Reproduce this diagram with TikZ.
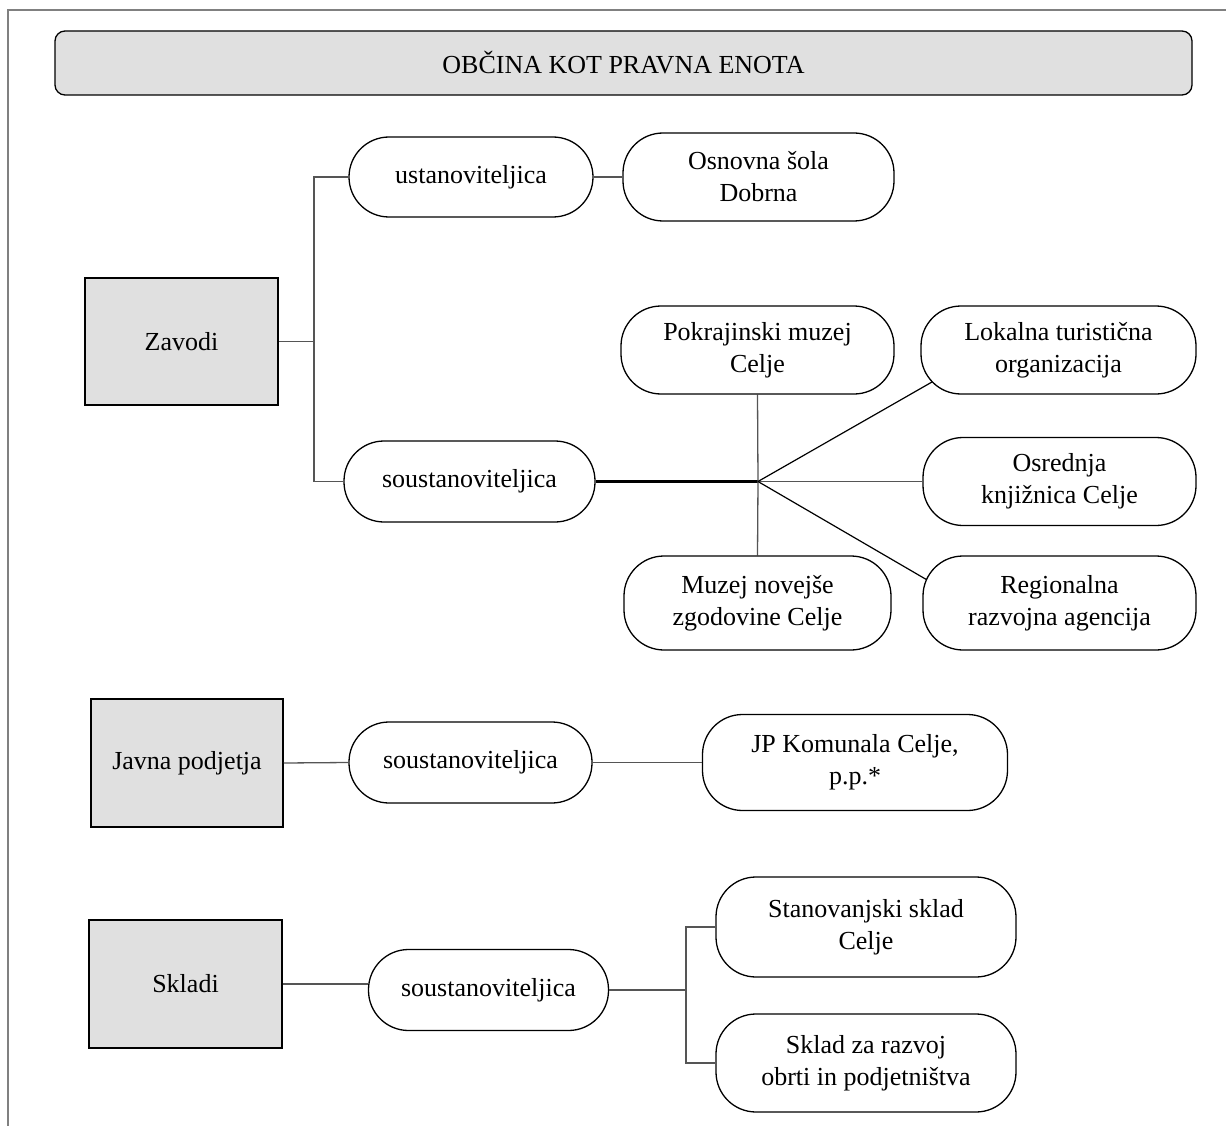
\documentclass[tikz,border=0pt]{standalone}
\usepackage{fontspec}
\setmainfont{Liberation Serif}
\usetikzlibrary{calc}
\definecolor{boxgray}{HTML}{E0E0E0}
\definecolor{framegray}{HTML}{808080}
\definecolor{linegray}{HTML}{555555}
\pgfdeclarelayer{bg}
\pgfsetlayers{bg,main}
\begin{document}
\begin{tikzpicture}[x=1pt,y=-1pt,
  font=\fontsize{26}{32}\selectfont,
  pill/.style={draw=black, line width=1.3pt, rounded corners=40pt, fill=white, align=center, inner sep=0pt},
  graybox/.style={draw=black, line width=1.5pt, fill=boxgray, align=center, inner sep=0pt},
  conn/.style={line width=1.3pt, draw=linegray},
  thickconn/.style={line width=2.2pt, draw=black},
  diag/.style={line width=1.2pt, draw=black}]
\useasboundingbox (0,0) rectangle (1226,1126);
% outer frame
\draw[framegray, line width=2.5pt] (8,1126) -- (8,10) -- (1226,10);
% title
\node[draw=black, fill=boxgray, rounded corners=10pt, line width=1.3pt, minimum width=1137pt, minimum height=64pt, inner sep=0pt] (title) at (623.5,63) {OBČINA KOT PRAVNA ENOTA};

% Zavodi group
\node[graybox, minimum width=193pt, minimum height=127pt] (zav) at (181.5,341.5) {Zavodi};
\node[pill, minimum width=244pt, minimum height=80pt] (ust) at (471,177) {ustanoviteljica};
\node[pill, minimum width=271pt, minimum height=88pt] (osn) at (758.5,177) {Osnovna šola\\Dobrna};
\node[pill, minimum width=251pt, minimum height=81pt] (sous1) at (469.5,481.5) {soustanoviteljica};
\node[pill, minimum width=273pt, minimum height=88pt] (pok) at (757.5,350) {Pokrajinski muzej\\Celje};
\node[pill, minimum width=275pt, minimum height=88pt] (lok) at (1058.5,350) {Lokalna turistična\\organizacija};
\node[pill, minimum width=273pt, minimum height=88pt] (osr) at (1059.5,481.5) {Osrednja\\knjižnica Celje};
\node[pill, minimum width=267pt, minimum height=94pt] (muz) at (757.5,603) {Muzej novejše\\zgodovine Celje};
\node[pill, minimum width=273pt, minimum height=94pt] (reg) at (1059.5,603) {Regionalna\\razvojna agencija};

\coordinate (jz) at (314,341.5);
\coordinate (hub) at (758,481.5);
\coordinate (lokend) at ($(lok.south west)+(14,-14)$);
\coordinate (regend) at ($(reg.north west)+(14,30)$);
\begin{pgfonlayer}{bg}
\draw[conn] (zav.east) -- (jz);
\draw[conn] (ust.west) -| (jz) |- (sous1.west);
\draw[conn] (ust.east) -- (osn.west);
\draw[thickconn] (sous1.east) -- (hub);
\draw[conn] (hub) -- (pok.south);
\draw[conn] (hub) -- (muz.north);
\draw[conn] (hub) -- (osr.west);
\draw[diag] (hub) -- (lokend);
\draw[diag] (hub) -- (regend);
\end{pgfonlayer}

% Javna podjetja group
\node[graybox, minimum width=192pt, minimum height=128pt] (jav) at (187,763) {Javna podjetja};
\node[pill, minimum width=243pt, minimum height=81pt] (sous2) at (470.5,762.5) {soustanoviteljica};
\node[pill, minimum width=305pt, minimum height=96pt] (jp) at (855,762.5) {JP Komunala Celje,\\p.p.*};
\draw[conn] (jav.east) -- (sous2.west);
\draw[conn] (sous2.east) -- (jp.west);

% Skladi group
\node[graybox, minimum width=193pt, minimum height=128pt] (skl) at (185.5,984) {Skladi};
\node[pill, minimum width=240pt, minimum height=81pt] (sous3) at (488.5,990) {soustanoviteljica};
\node[pill, minimum width=300pt, minimum height=100pt] (stan) at (866,927) {Stanovanjski sklad\\Celje};
\node[pill, minimum width=300pt, minimum height=98pt] (skr) at (866,1063) {Sklad za razvoj\\obrti in podjetništva};
\coordinate (js) at (686,990);
\draw[conn] (skl.east) -- (sous3.west |- skl.east);
\draw[conn] (sous3.east) -- (js);
\draw[conn] (stan.west) -| (js) |- (skr.west);
\end{tikzpicture}
\end{document}
